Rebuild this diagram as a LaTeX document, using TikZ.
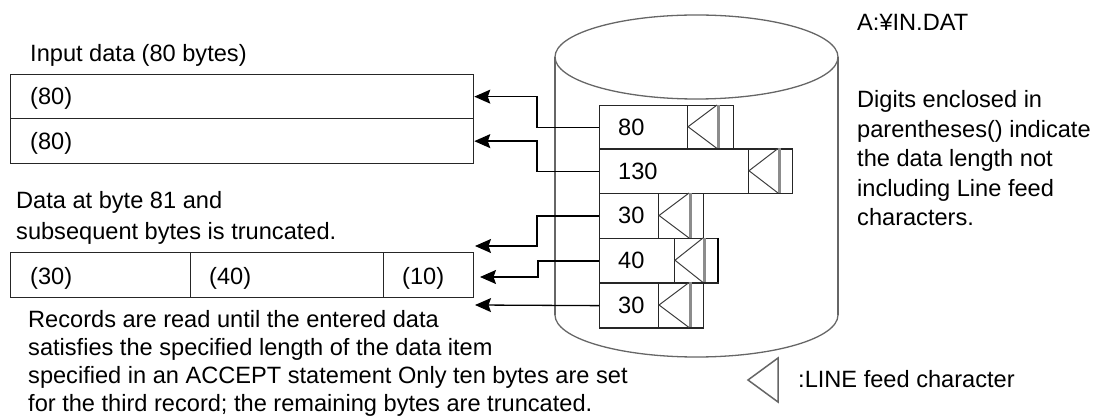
\documentclass[tikz,border=0pt]{standalone}
\usepackage{fontspec}
\setmainfont{Liberation Sans}
\usetikzlibrary{arrows.meta}
\begin{document}
\begin{tikzpicture}[x=1pt,y=-1pt,
  txt/.style={anchor=base west, inner sep=0pt, font=\fontsize{23.6}{28}\selectfont},
  cell/.style={draw=black!85, line width=1.3pt, inner sep=0pt, anchor=north west, fill=white},
  arr/.style={draw=black, line width=1.3pt, -{Stealth[length=16pt,width=14pt,inset=2.5pt]}},
  cyl/.style={draw=black!60, line width=1.3pt},
  lf/.style={draw=black!75, line width=1pt},
  lfbar/.style={draw=black!45, line width=2.5pt}]
\useasboundingbox (0,0) rectangle (1120,419);

% cylinder
\draw[cyl] (555,57) -- (555,315);
\draw[cyl] (838,57) -- (838,315);
\draw[cyl] (696.5,57) ellipse[x radius=141.5, y radius=42];
\draw[cyl] (838,315) arc[start angle=0, end angle=180, x radius=141.5, y radius=42];

% input boxes
\node[cell, minimum width=463pt, minimum height=44pt] (in1) at (10,74) {};
\node[cell, minimum width=463pt, minimum height=45pt] (in2) at (10,118) {};
\node[cell, minimum width=180pt, minimum height=45pt] (c1) at (10,252) {};
\node[cell, minimum width=193pt, minimum height=45pt] (c2) at (190,252) {};
\node[cell, minimum width=90pt, minimum height=45pt] (c3) at (383,252) {};

% records
\foreach \n/\t/\b/\d/\tr/\r/\v in {1/105/148.5/687/717/733/80, 2/148.5/193/748/778/792/130, 3/193/238/658/689/703/30, 4/238/282.5/674/703/718/40, 5/282.5/327.5/658/689/703/30}{
  \node[cell, minimum width={\d pt-599pt}, minimum height={\b pt-\t pt}] (r\n) at (599,\t) {};
  \node[cell, minimum width={\r pt-\d pt}, minimum height={\b pt-\t pt}] (lf\n) at (\d,\t) {};
  \draw[lfbar] (\tr+1.5,\t) -- (\tr+1.5,\b);
  \draw[lf] (\tr,\t) -- (\d+1,{(\t+\b)/2}) -- (\tr,\b);
  \node[txt] (v\n) at (618,{(\t+\b)/2+8.5}) {\v};
}
\draw[black, line width=2.6pt] (718,238) -- (718,282.5);

% arrows
\coordinate (t3) at (475,246);
\coordinate (t4) at (480,277);
\coordinate (t5) at (475,305);
\draw[arr] (r1.west) -- ++(-62,0) |- (in1.east);
\draw[arr] (r2.west) -- ++(-62,0) |- (in2.east);
\draw[arr] (r3.west) -- ++(-62,0) |- (t3);
\draw[arr] (r4.west) -- ++(-61,0) |- (t4);
\draw[arr] (r5.west) -- (t5);

% texts
\node[txt] (lab1) at (30,62) {Input data (80 bytes)};
\node[txt] (a1) at (30,105) {(80)};
\node[txt] (a2) at (30,149.5) {(80)};
\node[txt] (d1) at (16,209) {Data at byte 81 and};
\node[txt] (d2) at (16,240) {subsequent bytes is truncated.};
\node[txt] (b1) at (30,285) {(30)};
\node[txt] (b2) at (209,285) {(40)};
\node[txt] (b3) at (402,285) {(10)};
\node[txt] (e1) at (28,328) {Records are read until the entered data};
\node[txt] (e2) at (28,356) {satisfies the specified length of the data item};
\node[txt] (e3) at (28,384) {specified in an ACCEPT statement Only ten bytes are set};
\node[txt] (e4) at (28,412) {for the third record; the remaining bytes are truncated.};
\node[txt] (fn) at (857,31) {A:¥IN.DAT};
\node[txt] (g1) at (857,108) {Digits enclosed in};
\node[txt] (g2) at (857,137.5) {parentheses() indicate};
\node[txt] (g3) at (857,167) {the data length not};
\node[txt] (g4) at (857,196.5) {including Line feed};
\node[txt] (g5) at (857,226) {characters.};

% legend
\draw[draw=black!60, line width=1.5pt] (778,358) -- (748,380) -- (778,402) -- cycle;
\node[txt] (leg) at (798,388) {:LINE feed character};
\end{tikzpicture}
\end{document}
